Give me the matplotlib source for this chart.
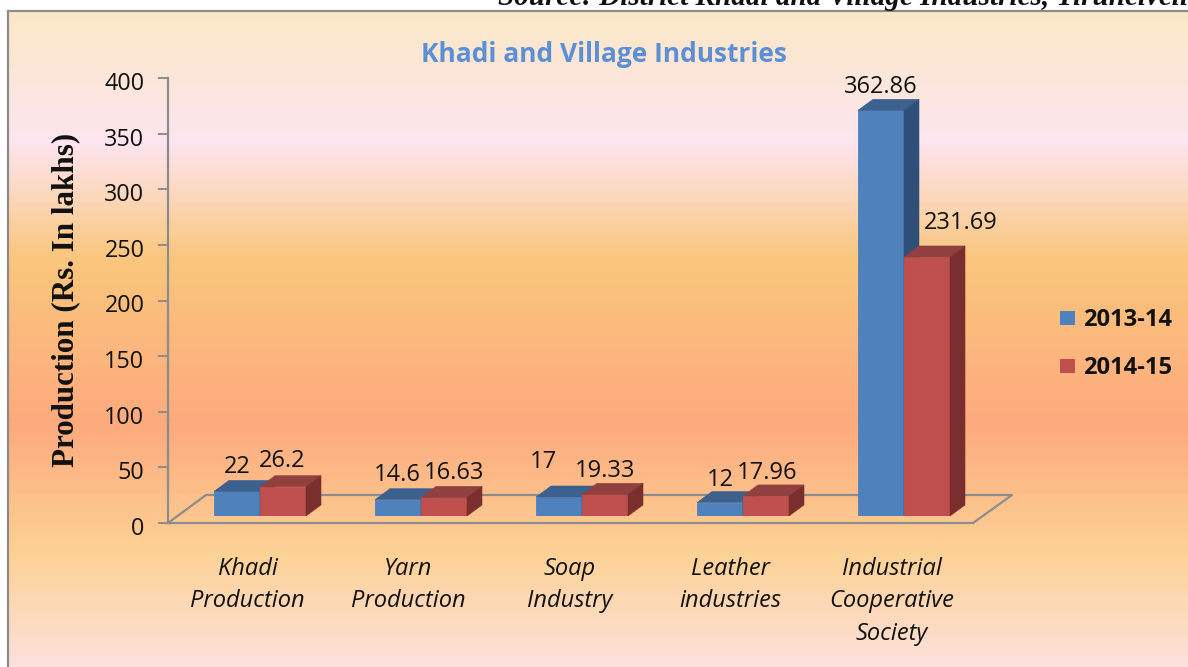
import numpy as np
import matplotlib
matplotlib.use("Agg")
import matplotlib.pyplot as plt
from matplotlib.colors import LinearSegmentedColormap
from matplotlib.patches import Polygon, Rectangle
from matplotlib.transforms import ScaledTranslation

categories = ["Khadi\nProduction", "Yarn\nProduction", "Soap\nIndustry",
              "Leather\nindustries", "Industrial\nCooperative\nSociety"]
series_names = ["2013-14", "2014-15"]
values_2013 = [22, 14.6, 17, 12, 362.86]
values_2014 = [26.2, 16.63, 19.33, 17.96, 231.69]
labels_2013 = ["22", "14.6", "17", "12", "362.86"]
labels_2014 = ["26.2", "16.63", "19.33", "17.96", "231.69"]
yticks = [0, 50, 100, 150, 200, 250, 300, 350, 400]

W, H = 1188, 667
fig = plt.figure(figsize=(W / 100, H / 100), dpi=100, facecolor="white")
FONT = ["Open Sans", "DejaVu Sans"]


def rect(l, t, r, b):
    return [l / W, 1 - b / H, (r - l) / W, (b - t) / H]


bg = fig.add_axes(rect(8, 11, W, H), zorder=0)
stops = [(0, "#FBE8C6"), (0.2, "#FDE5EF"), (0.38, "#FAC67C"), (0.63, "#FDAA7E"),
         (0.83, "#FCD295"), (1, "#FDE0DC")]
cmap = LinearSegmentedColormap.from_list("bg", stops)
bg.imshow(np.linspace(0, 1, 656)[:, None], aspect="auto", cmap=cmap, vmin=0, vmax=1)
bg.set_xticks([]); bg.set_yticks([])
for s in ("right", "bottom"):
    bg.spines[s].set_visible(False)
for s in ("left", "top"):
    bg.spines[s].set_color("#8C8C8C"); bg.spines[s].set_linewidth(1.6)

# Value axis: 0 at y=523, 400 at y=78
ax = fig.add_axes(rect(168, 78, 973, 523), zorder=1)
ax.patch.set_alpha(0)
ax.set_ylim(0, 400); ax.set_xlim(0, 1)
ax.set_yticks(yticks)
ax.set_xticks([])
ax.tick_params(axis="y", length=7, width=1.4, color="#8C8C8C", labelsize=16.8, pad=10)
nudge = ScaledTranslation(0, -3 / 100, fig.dpi_scale_trans)
for t in ax.get_yticklabels():
    t.set_family(FONT); t.set_color("#111111")
    t.set_transform(t.get_transform() + nudge)
for s in ("top", "right"):
    ax.spines[s].set_visible(False)
for s in ("left", "bottom"):
    ax.spines[s].set_color("#8C8C8C"); ax.spines[s].set_linewidth(1.6)
fig.text(66 / W, 1 - 300 / H, "Production (Rs. In lakhs)", family="Liberation Serif",
         weight="bold", fontsize=22.3, color="#111111", rotation=90,
         ha="center", va="center", zorder=5)

# Bars: data axes, front base at y=516, 161 px per category
PX_Y = 1.118
ba = fig.add_axes(rect(168, 516 - 400 * PX_Y, 973, 516), zorder=2)
ba.patch.set_alpha(0); ba.axis("off")
ba.set_ylim(0, 400)
x0 = 260
ba.set_xlim((168 - x0) / 161, (973 - x0) / 161)
w = 46 / 161
dx, dy = 15 / 161, 11 / PX_Y

# Floor (drawn in the bar axes' coordinates)
fx = [-92 / 161, -54 / 161, 752 / 161, 713 / 161]
fl_y = [-7 / PX_Y, 21 / PX_Y, 21 / PX_Y, -7 / PX_Y]
ba.plot(fx, fl_y, color="#8C8C8C", lw=1.6, clip_on=False, zorder=1)


def bar3d(xl, v, front, top, side, z):
    ba.add_patch(Rectangle((xl, 0), w, v, fc=front, ec=front, lw=0.6, zorder=z))
    ba.add_patch(Polygon([(xl, v), (xl + dx, v + dy), (xl + w + dx, v + dy), (xl + w, v)],
                         fc=top, ec=top, lw=0.4, zorder=z))
    ba.add_patch(Polygon([(xl + w, 0), (xl + w + dx, dy), (xl + w + dx, v + dy), (xl + w, v)],
                         fc=side, ec=side, lw=0.4, zorder=z))


for i in range(len(categories)):
    bar3d(i - w, values_2013[i], "#4F81BD", "#3C618E", "#2F4F79", 3 + i)
    bar3d(i, values_2014[i], "#C0504D", "#90403E", "#7A2F2E", 3.5 + i)

# Data labels, nudged per label as in the reference
off13 = [(-0.143, 12), (-0.15, 12), (-0.242, 21.5), (-0.143, 10.5), (-0.143, 11)]
off14 = [(0.137, 13), (0.205, 12), (0.143, 11), (0.149, 10.5), (0.354, 20.5)]
for i in range(len(categories)):
    for v, lab, (ox, oy) in ((values_2013[i], labels_2013[i], off13[i]),
                             (values_2014[i], labels_2014[i], off14[i])):
        ba.text(i + ox, v + dy + oy, lab, ha="center", va="center", fontsize=17,
                family=FONT, color="#111111", zorder=20)

# Category labels
for i, c in enumerate(categories):
    fig.text((247.5 + 161 * i) / W, 1 - 557 / H, c, ha="center", va="top", fontsize=17,
             style="italic", family=FONT, color="#111111", linespacing=1.46, zorder=5)

fig.text(604 / W, 1 - 54 / H, "Khadi and Village Industries", ha="center", va="center",
         fontsize=19, weight="bold", family=FONT, color="#5B8FD6", zorder=5)

# Legend
for name, color, yc in zip(series_names, ["#4F81BD", "#C0504D"], [318, 366]):
    fig.patches.append(Rectangle((1060 / W, 1 - (yc + 7) / H), 15 / W, 14 / H,
                                 transform=fig.transFigure, fc=color, ec="none", zorder=5))
    fig.text(1083 / W, 1 - (yc + 2) / H, name, va="center", fontsize=17, weight="bold",
             family=FONT, color="#111111", zorder=5)

fig.text(498 / W, 1 - 5 / H, "Source: District Khadi and Village Industries, Tirunelveli",
         ha="left", va="baseline", fontsize=21, weight="bold", style="italic",
         family="Liberation Serif", color="#111111", zorder=5)

fig.savefig("out.png", dpi=100)
